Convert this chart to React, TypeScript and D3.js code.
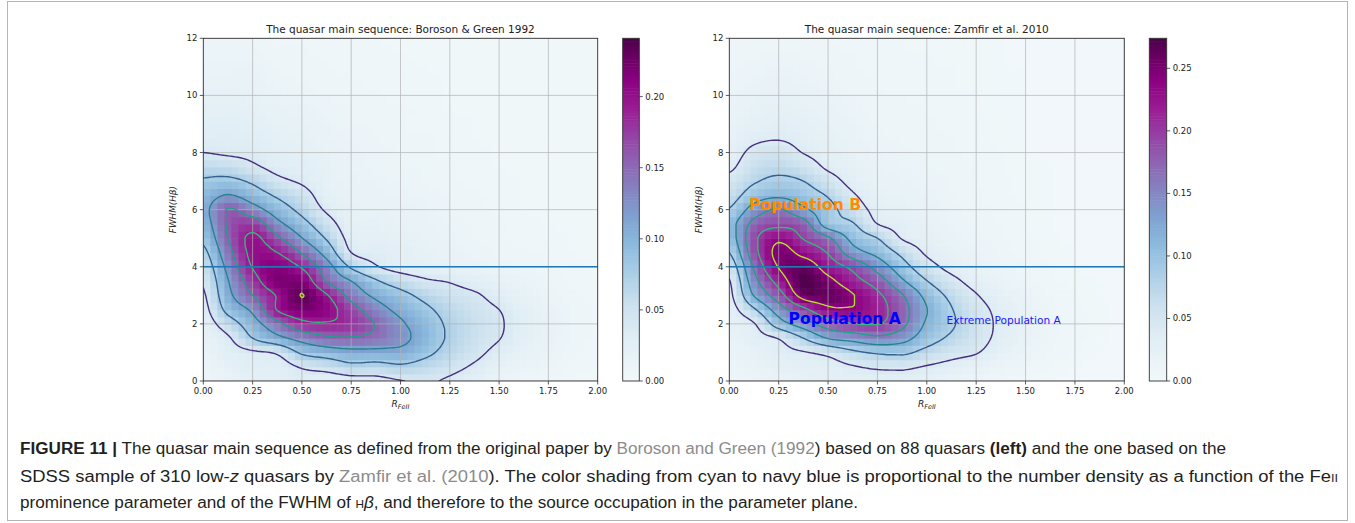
import React from "react";
import * as d3 from "d3";

// ---------------- DATA ----------------
const gridX = [0, 0.125, 0.25, 0.375, 0.5, 0.625, 0.75, 0.875, 1, 1.125, 1.25, 1.375, 1.5, 1.625, 1.75, 1.875, 2];
const gridY = [0, 0.5, 1, 1.5, 2, 2.5, 3, 3.5, 4, 4.5, 5, 5.5, 6, 6.5, 7, 7.5, 8, 8.5, 9, 9.5, 10, 10.5, 11, 11.5, 12];

// Boroson & Green 1992 density, one column per gridX value, rows follow gridY
const bgDensity = [
  [0.008, 0.010, 0.014, 0.018, 0.023, 0.029, 0.035, 0.043, 0.054, 0.068, 0.085, 0.099, 0.105, 0.097, 0.081, 0.062, 0.039, 0.031, 0.027, 0.023, 0.020, 0.016, 0.014, 0.012, 0.010],
  [0.016, 0.021, 0.027, 0.035, 0.058, 0.088, 0.105, 0.114, 0.127, 0.142, 0.155, 0.159, 0.157, 0.118, 0.086, 0.058, 0.035, 0.031, 0.027, 0.023, 0.020, 0.016, 0.014, 0.012, 0.010],
  [0.023, 0.029, 0.035, 0.077, 0.099, 0.124, 0.155, 0.176, 0.195, 0.202, 0.200, 0.176, 0.132, 0.097, 0.071, 0.044, 0.033, 0.029, 0.025, 0.021, 0.018, 0.016, 0.014, 0.012, 0.010],
  [0.027, 0.027, 0.044, 0.105, 0.144, 0.195, 0.196, 0.220, 0.213, 0.193, 0.162, 0.127, 0.097, 0.072, 0.047, 0.031, 0.027, 0.023, 0.020, 0.018, 0.014, 0.012, 0.010, 0.008, 0.006],
  [0.031, 0.042, 0.083, 0.130, 0.182, 0.218, 0.2325, 0.218, 0.189, 0.152, 0.117, 0.090, 0.067, 0.052, 0.035, 0.027, 0.023, 0.020, 0.018, 0.016, 0.012, 0.010, 0.008, 0.008, 0.006],
  [0.023, 0.052, 0.096, 0.148, 0.189, 0.208, 0.196, 0.153, 0.133, 0.101, 0.074, 0.053, 0.035, 0.025, 0.021, 0.020, 0.018, 0.016, 0.014, 0.012, 0.010, 0.008, 0.008, 0.006, 0.006],
  [0.027, 0.067, 0.105, 0.152, 0.179, 0.170, 0.142, 0.116, 0.072, 0.039, 0.029, 0.023, 0.020, 0.018, 0.016, 0.014, 0.014, 0.012, 0.010, 0.010, 0.008, 0.008, 0.006, 0.006, 0.006],
  [0.030, 0.064, 0.105, 0.144, 0.153, 0.133, 0.108, 0.081, 0.042, 0.031, 0.025, 0.021, 0.018, 0.016, 0.014, 0.012, 0.012, 0.010, 0.010, 0.008, 0.008, 0.006, 0.006, 0.006, 0.004],
  [0.038, 0.071, 0.105, 0.127, 0.122, 0.105, 0.088, 0.059, 0.027, 0.025, 0.021, 0.018, 0.016, 0.014, 0.012, 0.010, 0.010, 0.008, 0.008, 0.008, 0.006, 0.006, 0.006, 0.004, 0.004],
  [0.042, 0.062, 0.086, 0.099, 0.095, 0.084, 0.067, 0.043, 0.023, 0.020, 0.018, 0.016, 0.014, 0.012, 0.010, 0.010, 0.008, 0.008, 0.006, 0.006, 0.006, 0.006, 0.004, 0.004, 0.004],
  [0.035, 0.049, 0.064, 0.072, 0.071, 0.064, 0.052, 0.037, 0.020, 0.016, 0.014, 0.012, 0.010, 0.010, 0.008, 0.008, 0.006, 0.006, 0.006, 0.004, 0.004, 0.004, 0.004, 0.004, 0.004],
  [0.023, 0.035, 0.047, 0.053, 0.054, 0.050, 0.043, 0.027, 0.016, 0.012, 0.010, 0.010, 0.008, 0.008, 0.006, 0.006, 0.006, 0.004, 0.004, 0.004, 0.004, 0.004, 0.004, 0.004, 0.004],
  [0.014, 0.021, 0.031, 0.040, 0.042, 0.039, 0.029, 0.020, 0.012, 0.010, 0.008, 0.008, 0.006, 0.006, 0.006, 0.004, 0.004, 0.004, 0.004, 0.004, 0.004, 0.004, 0.004, 0.004, 0.004],
  [0.008, 0.014, 0.020, 0.025, 0.027, 0.025, 0.020, 0.014, 0.010, 0.008, 0.006, 0.006, 0.004, 0.004, 0.004, 0.004, 0.004, 0.004, 0.004, 0.004, 0.004, 0.004, 0.004, 0.004, 0.004],
  [0.006, 0.010, 0.014, 0.016, 0.018, 0.016, 0.012, 0.010, 0.008, 0.006, 0.006, 0.004, 0.004, 0.004, 0.004, 0.004, 0.004, 0.004, 0.004, 0.004, 0.004, 0.004, 0.004, 0.004, 0.004],
  [0.004, 0.006, 0.008, 0.010, 0.010, 0.010, 0.008, 0.006, 0.006, 0.004, 0.004, 0.004, 0.004, 0.004, 0.004, 0.004, 0.004, 0.004, 0.004, 0.004, 0.004, 0.004, 0.004, 0.004, 0.004],
  [0.004, 0.004, 0.006, 0.006, 0.006, 0.006, 0.006, 0.004, 0.004, 0.004, 0.004, 0.004, 0.004, 0.004, 0.004, 0.004, 0.004, 0.004, 0.004, 0.004, 0.004, 0.004, 0.004, 0.004, 0.004],
];

// Zamfir et al. 2010 density, one column per gridX value, rows follow gridY
const zfDensity = [
  [0.010, 0.012, 0.015, 0.019, 0.023, 0.027, 0.032, 0.038, 0.055, 0.080, 0.100, 0.105, 0.082, 0.063, 0.050, 0.034, 0.026, 0.022, 0.019, 0.016, 0.014, 0.012, 0.010, 0.009, 0.008],
  [0.014, 0.018, 0.023, 0.030, 0.038, 0.075, 0.122, 0.145, 0.165, 0.185, 0.190, 0.172, 0.137, 0.100, 0.076, 0.062, 0.048, 0.034, 0.026, 0.022, 0.019, 0.016, 0.013, 0.011, 0.009],
  [0.018, 0.024, 0.032, 0.042, 0.100, 0.140, 0.182, 0.215, 0.242, 0.250, 0.232, 0.190, 0.163, 0.113, 0.088, 0.070, 0.055, 0.038, 0.030, 0.025, 0.021, 0.018, 0.015, 0.012, 0.010],
  [0.022, 0.028, 0.038, 0.080, 0.140, 0.190, 0.255, 0.272, 0.262, 0.228, 0.198, 0.176, 0.128, 0.098, 0.080, 0.058, 0.039, 0.031, 0.026, 0.022, 0.019, 0.016, 0.013, 0.011, 0.009],
  [0.026, 0.030, 0.050, 0.122, 0.180, 0.230, 0.262, 0.250, 0.222, 0.197, 0.166, 0.100, 0.093, 0.077, 0.055, 0.035, 0.028, 0.024, 0.021, 0.018, 0.016, 0.013, 0.011, 0.009, 0.008],
  [0.030, 0.038, 0.072, 0.135, 0.198, 0.236, 0.242, 0.215, 0.190, 0.138, 0.108, 0.083, 0.060, 0.044, 0.030, 0.025, 0.021, 0.018, 0.016, 0.014, 0.012, 0.010, 0.009, 0.008, 0.007],
  [0.028, 0.045, 0.085, 0.150, 0.202, 0.215, 0.208, 0.180, 0.145, 0.108, 0.080, 0.040, 0.030, 0.024, 0.020, 0.017, 0.015, 0.013, 0.011, 0.010, 0.009, 0.008, 0.007, 0.006, 0.005],
  [0.030, 0.046, 0.088, 0.135, 0.170, 0.175, 0.163, 0.126, 0.096, 0.070, 0.038, 0.030, 0.024, 0.020, 0.017, 0.015, 0.013, 0.011, 0.010, 0.009, 0.008, 0.007, 0.006, 0.005, 0.005],
  [0.024, 0.038, 0.068, 0.098, 0.114, 0.121, 0.108, 0.081, 0.055, 0.035, 0.027, 0.022, 0.018, 0.016, 0.014, 0.012, 0.011, 0.010, 0.009, 0.008, 0.007, 0.006, 0.005, 0.005, 0.004],
  [0.018, 0.030, 0.052, 0.073, 0.085, 0.082, 0.070, 0.050, 0.030, 0.022, 0.018, 0.015, 0.013, 0.012, 0.011, 0.010, 0.009, 0.008, 0.007, 0.006, 0.006, 0.005, 0.005, 0.004, 0.004],
  [0.012, 0.022, 0.042, 0.053, 0.056, 0.052, 0.042, 0.028, 0.020, 0.016, 0.013, 0.011, 0.010, 0.009, 0.008, 0.008, 0.007, 0.006, 0.006, 0.005, 0.005, 0.004, 0.004, 0.004, 0.003],
  [0.008, 0.014, 0.024, 0.032, 0.034, 0.032, 0.025, 0.017, 0.013, 0.011, 0.009, 0.008, 0.007, 0.006, 0.006, 0.005, 0.005, 0.004, 0.004, 0.004, 0.003, 0.003, 0.003, 0.003, 0.003],
  [0.005, 0.009, 0.014, 0.019, 0.020, 0.019, 0.015, 0.011, 0.009, 0.007, 0.006, 0.005, 0.005, 0.004, 0.004, 0.004, 0.003, 0.003, 0.003, 0.003, 0.003, 0.003, 0.003, 0.002, 0.002],
  [0.003, 0.005, 0.008, 0.010, 0.011, 0.010, 0.008, 0.006, 0.005, 0.004, 0.004, 0.003, 0.003, 0.003, 0.003, 0.003, 0.002, 0.002, 0.002, 0.002, 0.002, 0.002, 0.002, 0.002, 0.002],
  [0.002, 0.003, 0.005, 0.006, 0.006, 0.006, 0.005, 0.004, 0.003, 0.003, 0.002, 0.002, 0.002, 0.002, 0.002, 0.002, 0.002, 0.002, 0.002, 0.002, 0.002, 0.002, 0.002, 0.002, 0.002],
  [0.002, 0.002, 0.003, 0.004, 0.004, 0.004, 0.003, 0.003, 0.002, 0.002, 0.002, 0.002, 0.002, 0.002, 0.002, 0.002, 0.002, 0.002, 0.002, 0.002, 0.002, 0.002, 0.002, 0.002, 0.002],
  [0.002, 0.002, 0.002, 0.002, 0.002, 0.002, 0.002, 0.002, 0.002, 0.002, 0.002, 0.002, 0.002, 0.002, 0.002, 0.002, 0.002, 0.002, 0.002, 0.002, 0.002, 0.002, 0.002, 0.002, 0.002],
];

const bgLevels = [0.039, 0.077, 0.116, 0.155, 0.193, 0.232];
const zfLevels = [0.04, 0.08, 0.12, 0.16, 0.2, 0.24];
const bgMax = 0.241;
const zfMax = 0.274;
const bgColorbarTicks = [0, 0.05, 0.1, 0.15, 0.2];
const zfColorbarTicks = [0, 0.05, 0.1, 0.15, 0.2, 0.25];
const panelTitles = ["The quasar main sequence: Boroson & Green 1992", "The quasar main sequence: Zamfir et al. 2010"];
const xTicks = [0, 0.25, 0.5, 0.75, 1, 1.25, 1.5, 1.75, 2];
const yTicks = [0, 2, 4, 6, 8, 10, 12];
const xDomain = [0, 2];
const yDomain = [0, 12];
const fwhmDivide = 4;
const zfLabelTexts = ["Population B", "Population A", "Extreme Population A"];
const zfLabelX = [0.1, 0.3, 1.1];
const zfLabelY = [6.0, 2.0, 2.0];

const contourColors = ["#46307e", "#34618d", "#26838e", "#1fa088", "#33b67a", "#b5de2b"];
const cmapStops = [0, 0.12, 0.22, 0.32, 0.4, 0.48, 0.56, 0.64, 0.72, 0.8, 0.88, 0.94, 1];
const cmapColors = ["#f2f8fa", "#e1eef5", "#cce1ee", "#a9cde6", "#8bbadd", "#7fa1d0", "#8583c0", "#8e63b2", "#9540a4", "#9a1a92", "#8a0080", "#6c0064", "#4d004b"];

const captionLines = [
  [
    { t: "FIGURE 11 |", b: true },
    { t: " The quasar main sequence as defined from the original paper by " },
    { t: "Boroson and Green (1992", g: true },
    { t: ") based on 88 quasars " },
    { t: "(left)", b: true },
    { t: " and the one based on the" },
  ],
  [
    { t: "SDSS sample of 310 low-" },
    { t: "z", i: true },
    { t: " quasars by " },
    { t: "Zamfir et al. (2010", g: true },
    { t: "). The color shading from cyan to navy blue is proportional to the number density as a function of the Fe" },
    { t: "II", s: true },
  ],
  [
    { t: "prominence parameter and of the FWHM of " },
    { t: "H", s: true },
    { t: "β", i: true },
    { t: ", and therefore to the source occupation in the parameter plane." },
  ],
];

// ---------------- HELPERS ----------------
// Catmull-Rom step, bounded by its two central samples (no overshoot)
function cr(p0: number, p1: number, p2: number, p3: number, t: number) {
  const v = 0.5 * (2 * p1 + (-p0 + p2) * t + (2 * p0 - 5 * p1 + 4 * p2 - p3) * t * t + (-p0 + 3 * p1 - 3 * p2 + p3) * t * t * t);
  return Math.max(Math.min(p1, p2), Math.min(Math.max(p1, p2), v));
}

function makeSampler(cols: number[][]) {
  const nx = cols.length;
  const ny = cols[0].length;
  const sx = gridX[1] - gridX[0];
  const sy = gridY[1] - gridY[0];
  const g = (i: number, j: number) => cols[Math.max(0, Math.min(nx - 1, i))][Math.max(0, Math.min(ny - 1, j))];
  return (x: number, y: number) => {
    const u = (x - gridX[0]) / sx;
    const v = (y - gridY[0]) / sy;
    const i = Math.min(nx - 2, Math.floor(u));
    const j = Math.min(ny - 2, Math.floor(v));
    const tu = u - i;
    const tv = v - j;
    const r = [-1, 0, 1, 2].map((dj) => cr(g(i - 1, j + dj), g(i, j + dj), g(i + 1, j + dj), g(i + 2, j + dj), tu));
    return Math.max(0, cr(r[0], r[1], r[2], r[3], tv));
  };
}

const FONT = "DejaVu Sans";

type PanelProps = {
  id: string;
  px0: number;
  px1: number;
  py0: number;
  py1: number;
  cbx0: number;
  cbx1: number;
  ylabX: number;
  title: string;
  density: number[][];
  levels: number[];
  vmax: number;
  cbTicks: number[];
  labels?: boolean;
};

function Panel(p: PanelProps) {
  const xs = d3.scaleLinear().domain(xDomain).range([p.px0, p.px1]);
  const ys = d3.scaleLinear().domain(yDomain).range([p.py1, p.py0]);
  const cmap = d3
    .scaleLinear<string>()
    .domain(cmapStops)
    .range(cmapColors)
    .interpolate(d3.interpolateRgb)
    .clamp(true);
  const sample = makeSampler(p.density);

  // heat cells
  const NX = 56;
  const NY = 48;
  const cw = (xDomain[1] - xDomain[0]) / NX;
  const ch = (yDomain[1] - yDomain[0]) / NY;
  const cells: JSX.Element[] = [];
  for (let i = 0; i < NX; i++) {
    for (let j = 0; j < NY; j++) {
      const xa = xDomain[0] + i * cw;
      const ya = yDomain[0] + j * ch;
      const v = sample(xa + cw / 2, ya + ch / 2);
      const x0 = xs(xa);
      const x1 = xs(xa + cw);
      const y0 = ys(ya + ch);
      const y1 = ys(ya);
      cells.push(
        <rect key={i + "_" + j} x={x0} y={y0} width={x1 - x0 + 0.6} height={y1 - y0 + 0.6} fill={cmap(v / p.vmax)} />
      );
    }
  }

  // contours
  const hx = 0.0125;
  const hy = 0.05;
  const P = 4;
  const nx = Math.round((xDomain[1] - xDomain[0]) / hx) + 1 + 2 * P;
  const ny = Math.round((yDomain[1] - yDomain[0]) / hy) + 1 + 2 * P;
  const vals: number[] = new Array(nx * ny);
  for (let j = 0; j < ny; j++) {
    for (let i = 0; i < nx; i++) {
      if (i === 0 || j === 0 || i === nx - 1 || j === ny - 1) {
        vals[j * nx + i] = -1;
      } else {
        const x = Math.max(xDomain[0], Math.min(xDomain[1], xDomain[0] + (i - P) * hx));
        const y = Math.max(yDomain[0], Math.min(yDomain[1], yDomain[0] + (j - P) * hy));
        vals[j * nx + i] = sample(x, y);
      }
    }
  }
  const cs = d3.contours().size([nx, ny]).thresholds(p.levels)(vals);
  const paths = cs.map((c) =>
    c.coordinates
      .map((poly) =>
        poly
          .map(
            (ring) =>
              "M" +
              ring
                .map(([a, b]) => `${xs(xDomain[0] + (a - 0.5 - P) * hx).toFixed(2)},${ys(yDomain[0] + (b - 0.5 - P) * hy).toFixed(2)}`)
                .join("L") +
              "Z"
          )
          .join("")
      )
      .join("")
  );

  // colorbar
  const cbs = d3.scaleLinear().domain([0, p.vmax]).range([p.py1, p.py0]);
  const NB = 110;
  const bands: JSX.Element[] = [];
  for (let k = 0; k < NB; k++) {
    const v0 = (k / NB) * p.vmax;
    const v1 = ((k + 1) / NB) * p.vmax;
    bands.push(
      <rect key={k} x={p.cbx0} y={cbs(v1)} width={p.cbx1 - p.cbx0} height={cbs(v0) - cbs(v1) + 0.5} fill={cmap((v0 + v1) / 2 / p.vmax)} />
    );
  }

  const cx = (p.px0 + p.px1) / 2;
  const cy = (p.py0 + p.py1) / 2;

  return (
    <g>
      <defs>
        <clipPath id={"clip" + p.id}>
          <rect x={p.px0} y={p.py0} width={p.px1 - p.px0} height={p.py1 - p.py0} />
        </clipPath>
      </defs>
      <g clipPath={`url(#clip${p.id})`}>
        {cells}
        {xTicks.map((t) => (
          <line key={"gx" + t} x1={xs(t)} x2={xs(t)} y1={p.py0} y2={p.py1} stroke="#b0b0b0" strokeWidth={0.9} strokeOpacity={0.75} />
        ))}
        {yTicks.map((t) => (
          <line key={"gy" + t} x1={p.px0} x2={p.px1} y1={ys(t)} y2={ys(t)} stroke="#b0b0b0" strokeWidth={0.9} strokeOpacity={0.75} />
        ))}
        {paths.map((d, k) => (
          <path key={"c" + k} d={d} fill="none" stroke={contourColors[k]} strokeWidth={1.4} strokeLinejoin="round" />
        ))}
        <line x1={xs(xDomain[0])} x2={xs(xDomain[1])} y1={ys(fwhmDivide)} y2={ys(fwhmDivide)} stroke="#1f77b4" strokeWidth={1.5} />
        {p.labels && (
          <g fontFamily={FONT}>
            <text x={xs(zfLabelX[0])} y={ys(zfLabelY[0])} fill="#ff8c00" fontWeight="bold" fontSize={15.6}>
              {zfLabelTexts[0]}
            </text>
            <text x={xs(zfLabelX[1])} y={ys(zfLabelY[1])} fill="#0000ff" fontWeight="bold" fontSize={15.6}>
              {zfLabelTexts[1]}
            </text>
            <text x={xs(zfLabelX[2])} y={ys(zfLabelY[2])} fill="#1a1aff" fontSize={10.6}>
              {zfLabelTexts[2]}
            </text>
          </g>
        )}
      </g>
      <rect x={p.px0} y={p.py0} width={p.px1 - p.px0} height={p.py1 - p.py0} fill="none" stroke="#333" strokeWidth={0.9} />
      {/* ticks */}
      <g fontFamily={FONT} fontSize={8.5} fill="#222">
        {xTicks.map((t) => (
          <g key={"xt" + t}>
            <line x1={xs(t)} x2={xs(t)} y1={p.py1} y2={p.py1 + 3.5} stroke="#333" strokeWidth={0.8} />
            <text x={xs(t)} y={p.py1 + 13} textAnchor="middle">
              {t.toFixed(2)}
            </text>
          </g>
        ))}
        {yTicks.map((t) => (
          <g key={"yt" + t}>
            <line x1={p.px0 - 3.5} x2={p.px0} y1={ys(t)} y2={ys(t)} stroke="#333" strokeWidth={0.8} />
            <text x={p.px0 - 6} y={ys(t) + 3} textAnchor="end">
              {String(t)}
            </text>
          </g>
        ))}
        {p.cbTicks.map((t) => (
          <g key={"ct" + t}>
            <line x1={p.cbx1} x2={p.cbx1 + 3.5} y1={cbs(t)} y2={cbs(t)} stroke="#333" strokeWidth={0.8} />
            <text x={p.cbx1 + 6} y={cbs(t) + 3}>
              {t.toFixed(2)}
            </text>
          </g>
        ))}
      </g>
      {/* colorbar */}
      {bands}
      <rect x={p.cbx0} y={p.py0} width={p.cbx1 - p.cbx0} height={p.py1 - p.py0} fill="none" stroke="#333" strokeWidth={0.9} />
      {/* labels */}
      <text x={cx} y={p.py0 - 5} textAnchor="middle" fontFamily={FONT} fontSize={10.5} fill="#222">
        {p.title}
      </text>
      <text x={cx} y={p.py1 + 26} textAnchor="middle" fontFamily={FONT} fontSize={9} fill="#222" fontStyle="italic">
        <tspan>R</tspan>
        <tspan fontSize={6.5} dy={2}>
          FeII
        </tspan>
      </text>
      <text transform={`translate(${p.ylabX},${cy}) rotate(-90)`} textAnchor="middle" fontFamily={FONT} fontSize={8.8} fontStyle="italic" fill="#222">
        FWHM(Hβ)
      </text>
    </g>
  );
}

const capBaselines = [454, 481.5, 508];
const capWidths = [1206, 1318, 838];

export default function App() {
  return (
    <svg width={1355} height={523} style={{ position: "absolute", left: 0, top: 0, background: "#fff" }}>
      <rect x={7.5} y={1.5} width={1340} height={519} fill="none" stroke="#b5b5b5" strokeWidth={1} />
      <Panel
        id="L"
        px0={203.3}
        px1={597.7}
        py0={38.3}
        py1={381}
        cbx0={622.7}
        cbx1={639.3}
        ylabX={176}
        title={panelTitles[0]}
        density={bgDensity}
        levels={bgLevels}
        vmax={bgMax}
        cbTicks={bgColorbarTicks}
      />
      <Panel
        id="R"
        px0={729.3}
        px1={1124.3}
        py0={38.3}
        py1={381}
        cbx0={1149.3}
        cbx1={1166.7}
        ylabX={702}
        title={panelTitles[1]}
        density={zfDensity}
        levels={zfLevels}
        vmax={zfMax}
        cbTicks={zfColorbarTicks}
        labels
      />
      <g fontFamily="Liberation Sans, Arial, sans-serif" fontSize={16} fill="#231f20">
        {captionLines.map((line, li) => (
          <text key={li} x={20} y={capBaselines[li]} textLength={capWidths[li]} lengthAdjust="spacingAndGlyphs">
            {line.map((s: any, k) => (
              <tspan
                key={k}
                fontWeight={s.b ? "bold" : "normal"}
                fontStyle={s.i ? "italic" : "normal"}
                fill={s.g ? "#8c8c8c" : "#231f20"}
                fontSize={s.s ? 11 : 16}
              >
                {s.t}
              </tspan>
            ))}
          </text>
        ))}
      </g>
    </svg>
  );
}
